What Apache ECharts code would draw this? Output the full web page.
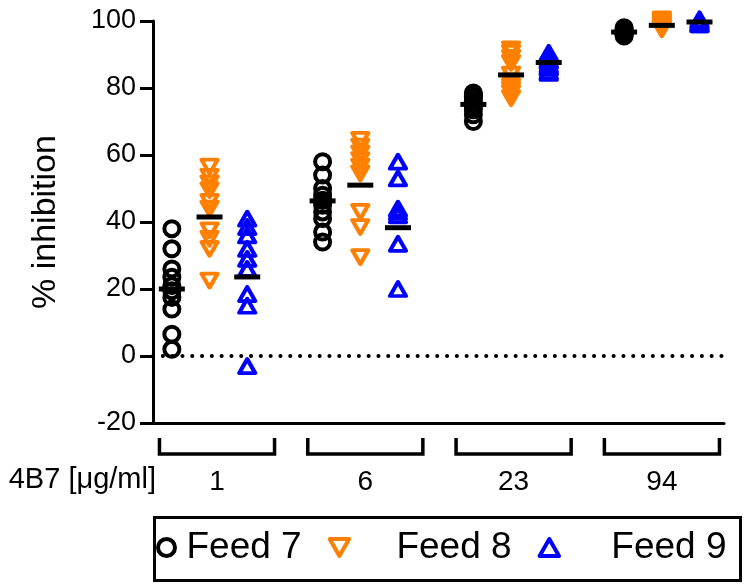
<!DOCTYPE html>
<html>
<head>
<meta charset="utf-8">
<script src="https://cdn.jsdelivr.net/npm/echarts@6/dist/echarts.min.js"></script>
<style>
html,body{margin:0;padding:0;background:#fff;}
#c{width:753px;height:585px;}
</style>
</head>
<body>
<div id="c"></div>
<script>
// ---- data ----
const doses = ['1', '6', '23', '94'];
const seriesNames = ['Feed 7', 'Feed 8', 'Feed 9'];
const yTicks = [-20, 0, 20, 40, 60, 80, 100];
// values per dose group
const feed7 = [
  [38, 32, 26, 23.5, 21, 19.5, 17.5, 14, 6.5, 2],
  [58, 54, 50, 48, 46.5, 45, 43, 41, 37, 34],
  [78.5, 78, 77.5, 77, 76, 75, 74.5, 73.5, 72, 70],
  [98, 97.5, 97, 96.5, 96.5, 96, 96, 95.5]
];
const feed8 = [
  [56.5, 53.5, 51.5, 49.5, 46, 44, 37.5, 35, 32, 22.5],
  [64.5, 62.5, 60.5, 58.5, 56.5, 54.5, 43, 38.5, 29.5],
  [91.5, 90.5, 89, 87.5, 84, 82, 80.5, 79.5, 78.5, 77],
  [100.5, 100, 99.5, 99, 98.5, 98, 97.5]
];
const feed9 = [
  [41, 38.5, 36, 32, 29, 26, 18.5, 15, -3],
  [58, 53, 44, 43, 42, 33.5, 20],
  [90.5, 89.5, 88.5, 88, 87, 86.5, 86, 85, 84.5],
  [100.5, 100, 99.5, 99, 99]
];
const mean7 = [20, 46.3, 75.1, 96.7];
const mean8 = [41.5, 51, 83.9, 98.7];
const mean9 = [23.6, 38.3, 87.6, 99.7];

// ---- build ----
const groups = [feed7, feed8, feed9];
const means = [mean7, mean8, mean9];
const colors = ['#000000', '#FF8000', '#0000FF'];
const FONT = 'Liberation Sans, Arial, Helvetica, sans-serif';
const DOWN_TRI = 'path://M0,0L16,0L8,14Z';
const UP_TRI = 'path://M8,0L16,14L0,14Z';

function pts(arr, f) {
  const out = [];
  arr.forEach((vals, g) => vals.forEach(v => out.push([g * 4 + f, v])));
  return out;
}
function meanPts(arr, f) {
  return arr.map((v, g) => [g * 4 + f, v]);
}

const markerStyle = [
  {symbol: 'circle', symbolSize: 15},
  {symbol: DOWN_TRI, symbolSize: [16, 14]},
  {symbol: UP_TRI, symbolSize: [16, 14]}
];

const series = [];
seriesNames.forEach((name, i) => {
  series.push({
    name: name,
    type: 'scatter',
    xAxisIndex: 0, yAxisIndex: 0,
    symbol: markerStyle[i].symbol,
    symbolSize: markerStyle[i].symbolSize,
    clip: false,
    itemStyle: {color: 'rgba(255,255,255,0)', borderColor: colors[i], borderWidth: 4, borderJoin: 'round', opacity: 1},
    emphasis: {disabled: true},
    data: pts(groups[i], i),
    z: 3
  });
});
seriesNames.forEach((name, i) => {
  series.push({
    name: name + ' mean',
    type: 'scatter',
    xAxisIndex: 0, yAxisIndex: 0,
    symbol: 'rect',
    symbolSize: [26, 5],
    clip: false,
    itemStyle: {color: '#000', opacity: 1},
    emphasis: {disabled: true},
    data: meanPts(means[i], i),
    z: 5
  });
});
// zero reference line
series.push({
  type: 'line', xAxisIndex: 0, yAxisIndex: 0, data: [],
  markLine: {
    silent: true, symbol: 'none', label: {show: false},
    lineStyle: {color: '#000', width: 4, type: [0.1, 9.7], cap: 'round', opacity: 1},
    data: [{yAxis: 0}]
  }
});
// grouping brackets + dose labels
series.push({
  type: 'custom',
  xAxisIndex: 1, yAxisIndex: 0,
  clip: false, silent: true,
  data: doses.map((d, i) => [i, d]),
  renderItem: function (params, api) {
    const idx = api.value(0);
    const c = api.coord([idx, -20]);
    const hw = api.size([0.388, 0])[0];
    const top = c[1] + 15, bot = c[1] + 31;
    return {
      type: 'group',
      children: [
        {type: 'polyline', shape: {points: [[c[0] - hw, top], [c[0] - hw, bot], [c[0] + hw, bot], [c[0] + hw, top]]},
         style: {stroke: '#000', lineWidth: 3.5, fill: null}},
        {type: 'text', style: {text: doses[params.dataIndex], x: c[0], y: c[1] + 59, align: 'center', verticalAlign: 'middle',
          font: '28px ' + FONT, fill: '#000'}}
      ]
    };
  }
});

// legend: space before each label text
const legendTextPad = [5, 42, 47];

const chart = echarts.init(document.getElementById('c'), null, {renderer: 'canvas'});
chart.setOption({
  animation: false,
  backgroundColor: '#fff',
  grid: {left: 153, top: 21, width: 571, height: 402, containLabel: false},
  xAxis: [
    {type: 'value', min: -0.5, max: 14.65, position: 'bottom',
     axisLine: {show: true, onZero: false, lineStyle: {color: '#000', width: 3}},
     axisTick: {show: false}, axisLabel: {show: false}, splitLine: {show: false}},
    {type: 'value', min: -0.4316, max: 3.4186, show: false, splitLine: {show: false}}
  ],
  yAxis: {
    type: 'value', min: yTicks[0], max: yTicks[yTicks.length - 1], interval: 20,
    name: '% inhibition', nameLocation: 'middle', nameGap: 90, nameRotate: 90,
    nameTextStyle: {fontSize: 34, color: '#000', fontFamily: FONT},
    axisLine: {show: true, onZero: false, lineStyle: {color: '#000', width: 3}},
    axisTick: {show: true, inside: false, length: 13, lineStyle: {color: '#000', width: 3}},
    axisLabel: {fontSize: 27, color: '#000', fontFamily: FONT, margin: 17},
    splitLine: {show: false}
  },
  legend: {
    data: seriesNames.map((n, i) => ({name: n, textStyle: {padding: [0, 0, 0, legendTextPad[i]]}})),
    left: 156, top: 529,
    padding: 0,
    itemGap: 26,
    itemWidth: 20, itemHeight: 17,
    itemStyle: {borderWidth: 4},
    textStyle: {fontSize: 37, color: '#000', fontFamily: FONT},
    selectedMode: false
  },
  graphic: [
    {type: 'text', right: 753 - 156, top: 465,
     style: {text: '4B7 [\u03BCg/ml]', font: '29px ' + FONT, fill: '#000'}},
    {type: 'rect', left: 152, top: 515, silent: true,
     shape: {width: 586, height: 63}, style: {stroke: '#000', lineWidth: 3, fill: null}}
  ],
  series: series
});
</script>
</body>
</html>
